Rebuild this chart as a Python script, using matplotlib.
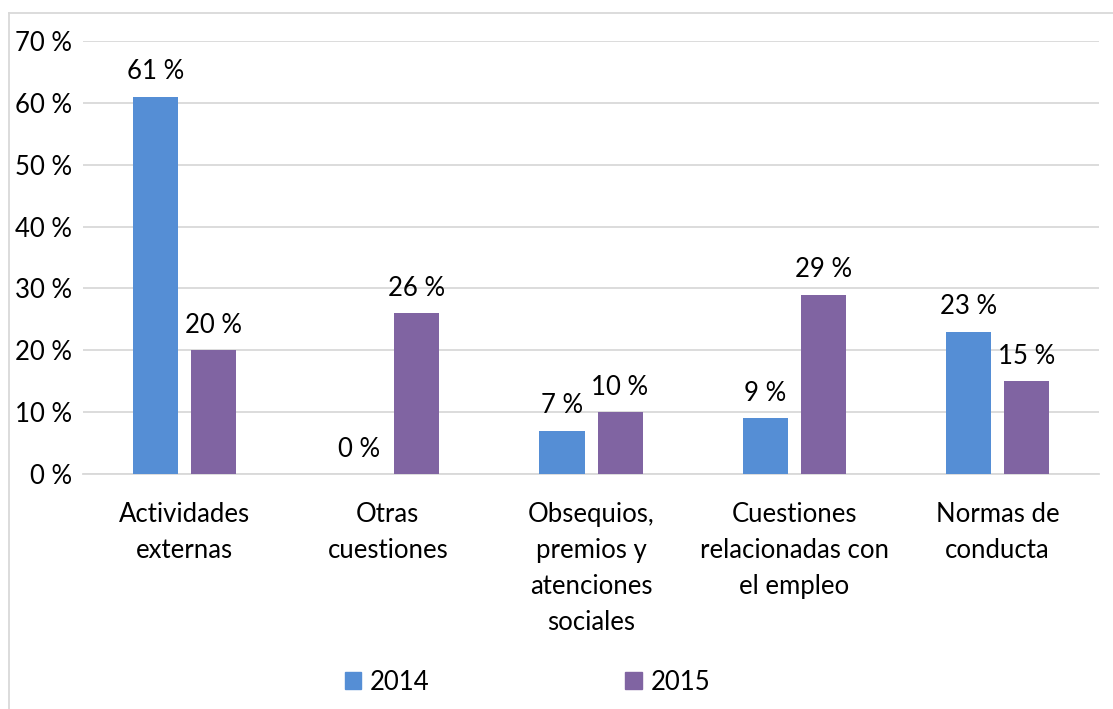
import numpy as np
import matplotlib.pyplot as plt
from matplotlib.lines import Line2D

# consultas por tema, % del total
categorias = ['Actividades\nexternas', 'Otras\ncuestiones',
              'Obsequios,\npremios y\natenciones\nsociales',
              'Cuestiones\nrelacionadas con\nel empleo', 'Normas de\nconducta']
v2014 = [61, 0, 7, 9, 23]
v2015 = [20, 26, 10, 29, 15]
anios = ['2014', '2015']

azul = '#558ED5'
morado = '#8064A2'
plt.rcParams['font.family'] = ['Lato', 'DejaVu Sans']
fs = 18.5

fig = plt.figure(figsize=(11.13, 7.09), dpi=100)
ax = fig.add_axes([0.0746, 0.3315, 0.9128, 0.6105])

x = np.arange(len(categorias))
w = 0.222
ax.bar(x - 0.143, v2014, w, color=azul, zorder=3)
ax.bar(x + 0.143, v2015, w, color=morado, zorder=3)

for xi, a, b in zip(x, v2014, v2015):
    ax.text(xi - 0.143, a + 2.0, f'{a} %', ha='center', va='bottom', fontsize=fs)
    ax.text(xi + 0.143, b + 2.0, f'{b} %', ha='center', va='bottom', fontsize=fs)

ax.set_xlim(-0.5, len(categorias) - 0.5)
ax.set_ylim(0, 70)
ax.set_yticks(range(0, 71, 10))
ax.set_yticklabels([f'{t} %' for t in range(0, 71, 10)], fontsize=fs)
ax.set_xticks(x)
ax.set_xticklabels(categorias, fontsize=fs, linespacing=1.55, va='top')
ax.tick_params(length=0, pad=8)
ax.tick_params(axis='x', pad=20)
ax.grid(axis='y', color='#d9d9d9', linewidth=1.3, zorder=0)
for s in ['top', 'right', 'left']:
    ax.spines[s].set_visible(False)
ax.spines['bottom'].set_color('#d9d9d9')
ax.spines['bottom'].set_linewidth(1.3)

# borde del área del gráfico
fig.add_artist(Line2D([9 / 1113, 1], [1 - 13 / 709, 1 - 13 / 709], color='#d9d9d9', lw=1.3))
fig.add_artist(Line2D([9 / 1113, 9 / 1113], [0, 1 - 13 / 709], color='#d9d9d9', lw=1.3))

handles = [plt.Rectangle((0, 0), 1, 1, color=azul), plt.Rectangle((0, 0), 1, 1, color=morado)]
fig.legend(handles, anios, loc='center', bbox_to_anchor=(0.474, 0.038), ncol=2,
           frameon=False, fontsize=fs, handlelength=0.65, handleheight=0.65,
           handletextpad=0.35, columnspacing=7.6)

fig.savefig('out.png', dpi=100)
